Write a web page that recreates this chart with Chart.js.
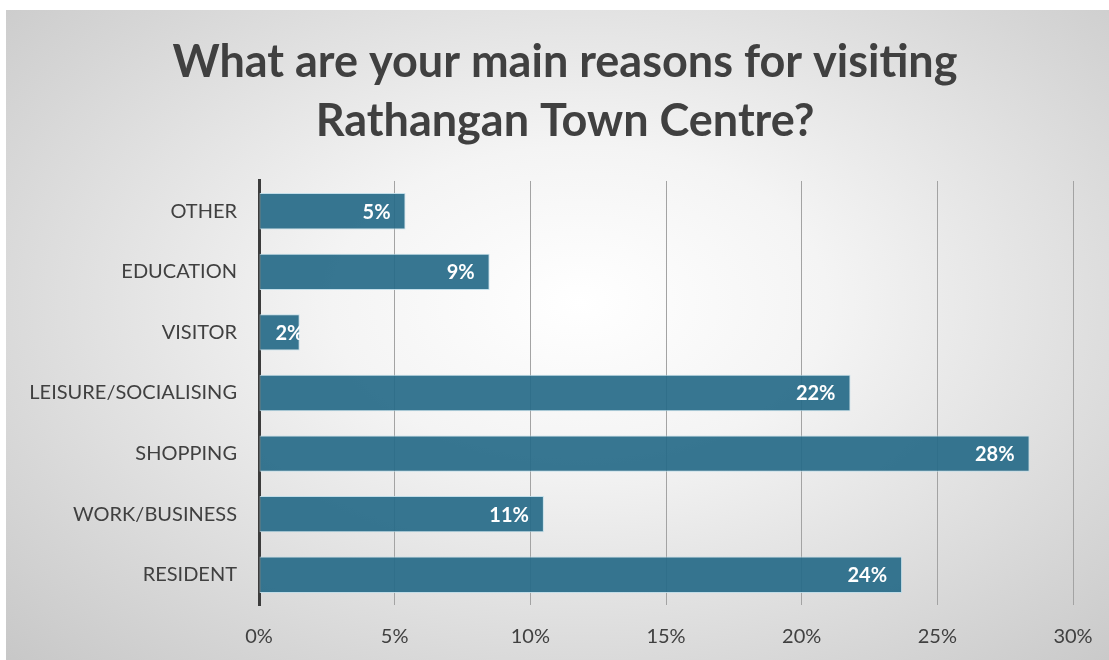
<!DOCTYPE html>
<html>
<head>
<meta charset="utf-8">
<script src="https://cdn.jsdelivr.net/npm/chart.js@4"></script>
<style>
    html, body { margin: 0; padding: 0; background: #fff; }
    #wrap {
        position: absolute; left: 6px; top: 10px; width: 1103px; height: 650px;
        background: radial-gradient(ellipse 75% 80% at 52% 45%, #ffffff 0%, #f4f4f4 30%, #d6d6d6 75%, #c6c6c6 100%);
    }
</style>
</head>
<body>
<div id="wrap"><canvas id="barChartReasons"></canvas></div>
<script>
var reasons = ['OTHER', 'EDUCATION', 'VISITOR', 'LEISURE/SOCIALISING', 'SHOPPING', 'WORK/BUSINESS', 'RESIDENT'];
var shares = [5.4, 8.5, 1.5, 21.8, 28.4, 10.5, 23.7];
var xTicks = [0, 5, 10, 15, 20, 25, 30];

var font = "Lato, 'Open Sans', sans-serif";

// white percentage labels at the inner end of each bar
var barLabels = {
    id: 'barLabels',
    afterLayout: function (chart) {
        // title sits a little right of the canvas centre in the original
        if (chart.titleBlock) chart.titleBlock.left += 51;
    },
    afterDatasetsDraw: function (chart) {
        var ctx = chart.ctx;
        var meta = chart.getDatasetMeta(0);
        ctx.save();
        ctx.font = 'bold 20px ' + font;
        ctx.fillStyle = '#ffffff';
        ctx.textBaseline = 'middle';
        ctx.textAlign = 'right';
        meta.data.forEach(function (bar, i) {
            var text = Math.round(shares[i]) + '%';
            var w = ctx.measureText(text).width;
            var x = Math.max(bar.x - 15, bar.base + 16 + w);
            ctx.save();
            ctx.beginPath();
            ctx.rect(bar.base, bar.y - bar.height / 2, bar.x - bar.base, bar.height);
            ctx.clip();
            ctx.fillText(text, x, bar.y + 1);
            ctx.restore();
        });
        ctx.restore();
    }
};

var ctx1 = document.getElementById('barChartReasons').getContext('2d');
var myChart1 = new Chart(ctx1, {
    type: 'bar',
    data: {
        labels: reasons,
        datasets: [{
            data: shares,
            backgroundColor: 'rgba(38,106,136,0.92)',
            borderColor: 'rgba(190,220,232,0.9)',
            borderWidth: 1,
            borderSkipped: false,
            barPercentage: 0.6,
            categoryPercentage: 1
        }]
    },
    options: {
        indexAxis: 'y',
        responsive: true,
        maintainAspectRatio: false,
        animation: false,
        layout: {
            padding: { top: 0, left: 0, right: 36, bottom: 12 }
        },
        plugins: {
            legend: { display: false },
            tooltip: { enabled: false },
            title: {
                display: true,
                text: ['What are your main reasons for visiting', 'Rathangan Town Centre?'],
                color: '#404040',
                font: { family: font, size: 45, weight: 'bold', lineHeight: 1.333 },
                padding: { top: 22, bottom: 29 }
            }
        },
        scales: {
            x: {
                min: 0,
                max: 30,
                afterBuildTicks: function (scale) {
                    scale.ticks = xTicks.map(function (v) { return { value: v }; });
                },
                afterFit: function (scale) {
                    scale.height = 43;
                    scale.paddingRight = 0;
                },
                ticks: {
                    callback: function (v) { return v + '%'; },
                    color: '#404040',
                    font: { family: font, size: 20 },
                    padding: 20,
                    maxRotation: 0
                },
                grid: { color: '#a3a3a3', lineWidth: 1, drawTicks: false },
                border: { display: false }
            },
            y: {
                afterFit: function (scale) { scale.width = 253; },
                ticks: {
                    color: '#404040',
                    font: { family: font, size: 20 },
                    padding: 22
                },
                grid: { display: false, drawTicks: false },
                border: { display: true, color: '#3c3c3c', width: 3 }
            }
        }
    },
    plugins: [barLabels]
});
</script>
</body>
</html>
